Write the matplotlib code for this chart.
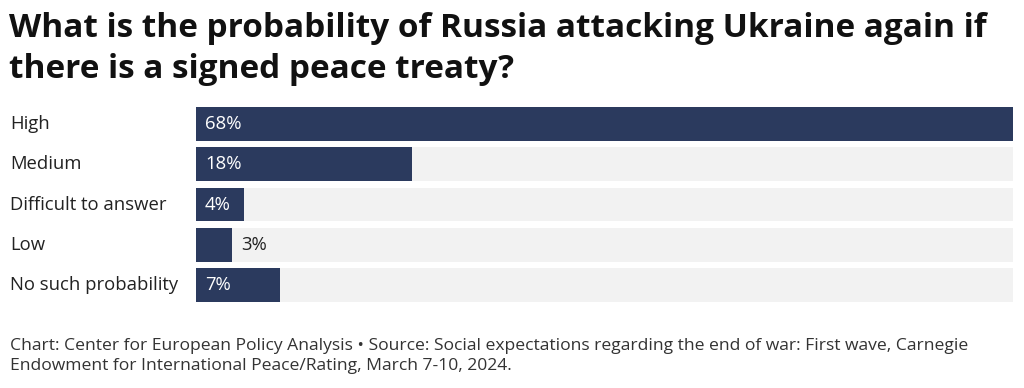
import matplotlib.pyplot as plt
import matplotlib.transforms as mtransforms

categories = ['High', 'Medium', 'Difficult to answer', 'Low', 'No such probability']
values = [68, 18, 4, 3, 7]
labels = ['68%', '18%', '4%', '3%', '7%']

title = 'What is the probability of Russia attacking Ukraine again if\nthere is a signed peace treaty?'
footer = ('Chart: Center for European Policy Analysis \u2022 Source: Social expectations regarding the end of war: First wave, Carnegie\n'
          'Endowment for International Peace/Rating, March 7-10, 2024.')

W, H = 1024, 388
bar_color = '#2b3a5e'
bg_color = '#f2f2f2'
text_color = '#222222'

plt.rcParams['font.family'] = ['Open Sans', 'DejaVu Sans']

fig = plt.figure(figsize=(W / 100, H / 100), dpi=100)
ax = fig.add_axes([196 / W, 1 - 305 / H, (1013 - 196) / W, 201 / H])

vmax = max(values)
ypos = list(range(len(categories)))
ax.barh(ypos, [vmax] * len(values), height=0.84, color=bg_color, zorder=1)
ax.barh(ypos, values, height=0.84, color=bar_color, zorder=2)
ax.set_xlim(0, vmax)
ax.set_ylim(len(categories) - 0.5, -0.5)
ax.axis('off')

inside = mtransforms.offset_copy(ax.transData, fig=fig, x=9, y=0, units='dots')
outside = mtransforms.offset_copy(ax.transData, fig=fig, x=9, y=0, units='dots')
for y, v, lab in zip(ypos, values, labels):
    if v >= 4:
        ax.text(0, y, lab, transform=inside, color='white', fontsize=13.3,
                va='center', ha='left', zorder=3)
    else:
        ax.text(v, y, lab, transform=outside, color=text_color, fontsize=13.3,
                va='center', ha='left', zorder=3)

trans = mtransforms.blended_transform_factory(fig.transFigure, ax.transData)
for y, c in zip(ypos, categories):
    ax.text(10 / W, y, c, transform=trans, color=text_color, fontsize=13.3,
            va='center', ha='left')

fig.text(9 / W, 1 - 12 / H, title, fontsize=24, fontweight='bold', color='#111111',
         va='top', ha='left', linespacing=1.33)
fig.text(10 / W, 1 - 338 / H, footer, fontsize=12.6, color='#333333',
         va='top', ha='left', linespacing=1.3)

fig.savefig('out.png', dpi=100)
